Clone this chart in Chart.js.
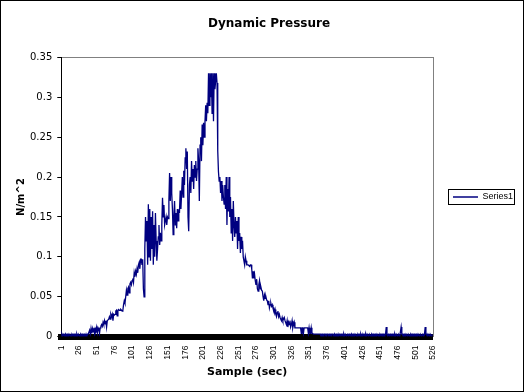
<!DOCTYPE html>
<html>
<head>
<meta charset="utf-8">
<script src="https://cdn.jsdelivr.net/npm/chart.js@4/dist/chart.umd.min.js"></script>
<style>
  body { margin: 0; background: #fff; }
  #wrap { width: 524px; height: 392px; border: 1px solid #000; box-sizing: border-box; }
</style>
</head>
<body>
<div id="wrap"><canvas id="myChart" width="522" height="390"></canvas></div>
<script>
  // sample numbers 1..526 are the categories
  const sampleCount = 526
  const labelStep = 25
  const samples = []
  for (let i = 1; i <= sampleCount; i++) samples.push(i)

  const yTicks = [0, 0.05, 0.1, 0.15, 0.2, 0.25, 0.3, 0.35]

  // Series1
  const pressure = [
    0,0.003,0,0.003,0.003,0,0.003,0,0.003,0.003,
    0,0.003,0.003,0,0.003,0,0.003,0.003,0,0.003,
    0.003,0,0.003,0,0.003,0.003,0,0.003,0,0.003,
    0.003,0,0.003,0.003,0,0.003,0,0.003,0.003,
    0.003,0.008,0.003,0.01,0.004,0.01,0.006,0.011,0.004,0.01,0.008,0.012,0.005,0.011,0.009,0.004,0.011,
    0.013,0.015,0.013,0.018,0.015,0.02,0.016,0.02,0.012,0.02,0.02,
    0.022,0.025,0.022,0.028,0.025,0.028,0.02,0.028,0.027,0.028,
    0.032,0.033,0.026,0.033,0.034,0.033,0.033,0.034,0.033,0.032,
    0.033,0.04,0.045,0.042,
    0.05,0.058,0.052,0.06,
    0.062,0.055,0.066,0.068,0.065,0.07,0.073,0.068,0.08,0.075,0.082,
    0.078,0.085,0.08,0.09,0.093,0.085,0.097,0.097,0.09,0.097,
    0.06,0.05,
    0.11,0.15,0.12,0.145,
    0.09,0.166,0.1,0.16,0.095,0.15,0.11,
    0.157,0.09,0.14,0.1,0.155,0.12,0.095,
    0.11,0.125,0.14,0.115,0.13,0.12,0.14,
    0.174,0.15,0.165,0.14,
    0.145,0.15,0.14,0.15,0.148,
    0.17,0.205,0.17,0.2,0.18,
    0.16,0.128,0.15,0.17,
    0.14,0.155,0.136,0.16,0.145,0.158,0.157,
    0.183,0.16,0.18,0.2,0.175,0.208,0.19,0.224,
    0.236,0.21,0.232,0.15,0.132,0.19,0.2,
    0.18,0.22,0.195,0.21,0.185,0.215,0.2,0.22,0.195,0.21,
    0.236,0.22,0.17,0.24,
    0.25,0.22,0.266,0.24,
    0.268,0.25,0.27,0.29,0.27,0.293,
    0.28,0.33,0.29,0.33,
    0.3,0.33,0.28,0.33,0.27,0.33,0.31,
    0.32,0.33,0.318,
    0.233,
    0.207,0.195,0.2,
    0.18,0.195,0.17,0.19,0.175,0.166,0.19,
    0.16,0.2,0.14,0.185,0.157,0.2,0.15,
    0.175,0.13,0.16,0.12,0.17,0.14,0.125,0.15,0.13,0.145,
    0.11,0.15,0.12,0.13,0.105,0.125,0.11,0.12,0.1,
    0.1,0.09,0.1,0.095,0.09,
    0.09,0.09,0.09,0.088,0.09,0.09,0.085,
    0.073,0.082,0.073,0.078,
    0.07,0.065,0.072,0.06,0.057,0.065,0.07,0.06,0.062,0.058,
    0.057,0.05,0.045,0.052,0.048,0.05,0.046,
    0.045,0.04,0.045,0.036,0.04,0.042,0.038,0.04,0.036,
    0.036,0.03,0.034,0.028,0.025,0.03,0.032,0.025,0.028,0.024,
    0.024,0.02,0.024,0.02,0.022,0.024,0.02,
    0.02,0.015,0.02,0.012,0.018,0.015,0.02,0.012,0.015,0.02,0.011,0.015,0.018,0.011,
    0.011,0.011,0.011,0.011,0.011,0.011,0.011,0.011,0.004,0.011,0.011,0.004,0.011,0.011,0.011,0.011,0.011,
    0.011,0.004,0.011,0.004,0.004,0.011,0.004,0.004,
    0.003,0.003,0.003,0.003,0.003,0.003,0.003,0.003,0.003,0.003,
    0.003,0,0.003,0.003,0,0.003,0.003,0.003,0,0.003,
    0.003,0.003,0,0.003,0.003,0,0.003,0.003,0.003,0,
    0.003,0,0.003,0.003,0,0.003,0,0.003,0.003,0,
    0.003,0.003,0,0.003,0,0.003,0.003,0,0.003,0.003,
    0,0.003,0.003,0,0.003,0,0.003,0.003,0,0.003,
    0.003,0,0.003,0,0.003,0.003,0,0.003,0,0.003,
    0,0.003,0.003,0,0.003,0,0.003,0.003,0,0.003,
    0.003,0,0.003,0,0.003,0.003,0,0.003,0.003,0,
    0.003,0.003,0,0.003,0,0.003,0.003,0,0.003,0.003,
    0,0.003,0.003,0.012,0.003,0,0.003,0.003,0,0.003,
    0.003,0,0.003,0.003,0,0.003,0,0.003,0.003,0,
    0.003,0.003,0,0.006,0.012,0.003,0.003,0,0.003,0.003,
    0,0.003,0.003,0,0.003,0.003,0,0.003,0,0.003,
    0.003,0,0.003,0.003,0,0.003,0.003,0,0.003,0.003,
    0,0.003,0.003,0,0.003,0.003,0,0.003,0.012,0.003,
    0.003,0,0.003,0.003,0,0.003,0.003,0,0.003,0.003
  ]

  Chart.defaults.font.family = 'DejaVu Sans'
  Chart.defaults.font.size = 10
  Chart.defaults.color = '#000'

  // gray frame on top/right of the plot, and the box round the legend
  const frames = {
    id: 'frames',
    beforeDraw(chart) {
      const a = chart.chartArea, c = chart.ctx
      c.save()
      c.strokeStyle = '#808080'
      c.lineWidth = 1
      c.strokeRect(Math.round(a.left) + 0.5, Math.round(a.top) + 0.5, Math.round(a.right - a.left), Math.round(a.bottom - a.top))
      c.restore()
    },
    afterDraw(chart) {
      const hb = chart.legend.legendHitBoxes[0]
      if (!hb) return
      const c = chart.ctx
      c.save()
      c.strokeStyle = '#000'
      c.lineWidth = 1
      c.strokeRect(Math.round(hb.left) - 4.5, Math.round(hb.top) - 3.5, Math.round(hb.width) + 6, Math.round(hb.height) + 6)
      c.restore()
    }
  }

  const ctx = document.getElementById('myChart')

  new Chart(ctx, {
    type: 'line',
    data: {
      labels: samples,
      datasets: [{
        label: 'Series1',
        data: pressure,
        borderColor: '#000080',
        backgroundColor: '#000080',
        borderWidth: 1.3,
        pointRadius: 0,
        tension: 0,
        fill: false
      }]
    },
    options: {
      responsive: false,
      animation: false,
      devicePixelRatio: 1,
      layout: { padding: { left: 14, right: 0, top: 4, bottom: 12 } },
      plugins: {
        title: {
          display: true,
          text: 'Dynamic Pressure',
          font: { size: 12, weight: 'bold' },
          padding: { top: 12, bottom: 26 }
        },
        legend: {
          position: 'right',
          fullSize: false,
          labels: {
            usePointStyle: true,
            pointStyle: 'line',
            pointStyleWidth: 25,
            padding: 20,
            font: { family: 'Liberation Sans', size: 9 }
          }
        },
        tooltip: { enabled: false }
      },
      scales: {
        x: {
          grid: { display: false, drawTicks: false },
          border: { display: true, color: '#000', width: 6 },
          ticks: {
            autoSkip: false,
            minRotation: 90,
            maxRotation: 90,
            padding: 9,
            font: { family: 'Liberation Sans', size: 8.5 },
            callback: function (val, i) {
              return i % labelStep === 0 ? samples[i] : ''
            }
          },
          title: {
            display: true,
            text: 'Sample (sec)',
            font: { size: 11, weight: 'bold' },
            padding: { top: -3, bottom: 0 }
          }
        },
        y: {
          min: 0,
          max: 0.35,
          afterBuildTicks: function (axis) {
            axis.ticks = yTicks.map(v => ({ value: v }))
          },
          grid: { display: true, drawOnChartArea: false, drawTicks: true, tickLength: 4, color: '#000' },
          border: { display: true, color: '#000', width: 1 },
          ticks: {
            padding: 5,
            callback: v => String(+v.toFixed(2))
          },
          title: {
            display: true,
            text: 'N/m^2',
            font: { size: 10, weight: 'bold' },
            padding: { top: 0, bottom: -2 }
          }
        }
      }
    },
    plugins: [frames]
  })
</script>
</body>
</html>
